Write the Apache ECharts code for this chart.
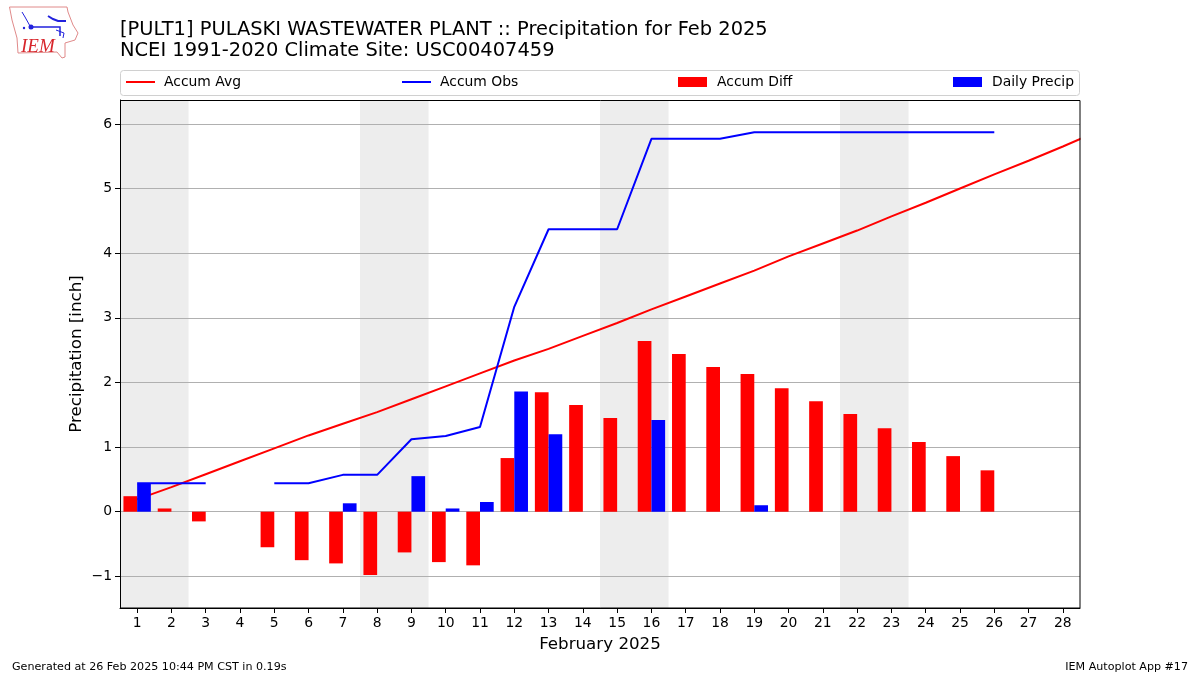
<!DOCTYPE html>
<html><head><meta charset="utf-8">
<style>html,body{margin:0;padding:0;background:#fff}#c{width:1200px;height:675px}</style>
<script src="https://cdn.jsdelivr.net/npm/echarts@6/dist/echarts.min.js"></script>
</head><body><div id="c"></div>
<script>
const days=[1,2,3,4,5,6,7,8,9,10,11,12,13,14,15,16,17,18,19,20,21,22,23,24,25,26,27,28,29];
const tickDays=[1,2,3,4,5,6,7,8,9,10,11,12,13,14,15,16,17,18,19,20,21,22,23,24,25,26,27,28];
const yTicks=[-1,0,1,2,3,4,5,6];
const accumAvg=[0.19,0.38,0.58,0.78,0.98,1.18,1.36,1.54,1.74,1.94,2.14,2.34,2.52,2.72,2.92,3.13,3.33,3.53,3.73,3.95,4.15,4.35,4.57,4.78,5.0,5.22,5.43,5.65,5.88];
const accumObs=[0.44,0.44,0.44,null,0.44,0.44,0.57,0.57,1.12,1.17,1.31,3.17,4.37,4.37,4.37,5.77,5.77,5.77,5.87,5.87,5.87,5.87,5.87,5.87,5.87,5.87,null,null,null];
const accumDiff=[0.24,0.05,-0.15,null,-0.55,-0.75,-0.80,-0.98,-0.63,-0.78,-0.83,0.83,1.85,1.65,1.45,2.64,2.44,2.24,2.13,1.91,1.71,1.51,1.29,1.08,0.86,0.64,null,null,null];
const dailyPrecip=[0.43,null,null,null,null,null,0.13,null,0.55,0.05,0.15,1.86,1.2,null,null,1.42,null,null,0.10,null,null,null,null,null,null,null,null,null,null];
const weekends=[[0.5,2.5],[7.5,9.5],[14.5,16.5],[21.5,23.5]];
const FONT='"DejaVu Sans"';
const pairs=v=>days.map((d,i)=>[d,v[i]]);
const chart=echarts.init(document.getElementById('c'),null,{renderer:'canvas'});
const leg=(name,left,pad,extra)=>Object.assign({show:true,data:[name],left:left,top:75,itemWidth:29,itemHeight:10,itemGap:9,padding:0,
  textStyle:{fontFamily:FONT,fontSize:13.9,color:'#000',padding:[0,0,0,pad]},selectedMode:false},extra);
const ttl=(text,pos,size)=>Object.assign({text:text,padding:0,textStyle:{fontFamily:FONT,fontSize:size,fontWeight:'normal',color:'#000'}},pos);
chart.setOption({
 animation:false,
 backgroundColor:'#fff',
 textStyle:{fontFamily:FONT},
 title:[
  ttl('[PULT1] PULASKI WASTEWATER PLANT :: Precipitation for Feb 2025',{left:120,top:20},19.45),
  ttl('NCEI 1991-2020 Climate Site: USC00407459',{left:120,top:41},19.45),
  ttl('Generated at 26 Feb 2025 10:44 PM CST in 0.19s',{left:12,top:662},11.12),
  ttl('IEM Autoplot App #17',{right:12,top:662},11.12)
 ],
 legend:[
  leg('Accum Avg',125,4,{itemStyle:{opacity:0}}),
  leg('Accum Obs',401,4,{itemStyle:{opacity:0}}),
  leg('Accum Diff',678,5,{icon:'rect'}),
  leg('Daily Precip',953,5,{icon:'rect'})],
 grid:{left:120,top:100,width:960,height:508,show:false},
 xAxis:{type:'value',min:0.5,max:28.5,
  name:'February 2025',nameLocation:'middle',nameGap:28,nameMoveOverlap:false,nameTextStyle:{fontFamily:FONT,fontSize:16.7,color:'#000'},
  axisLine:{show:true,onZero:false,lineStyle:{color:'#000',width:1}},
  axisTick:{show:true,length:5,customValues:tickDays,lineStyle:{color:'#000',width:1}},
  axisLabel:{show:true,customValues:tickDays,color:'#000',fontFamily:FONT,fontSize:13.9,margin:8,formatter:v=>String(v)},
  splitLine:{show:false},minorTick:{show:false}},
 yAxis:{type:'value',min:-1.49,max:6.37,
  name:'Precipitation [inch]',nameLocation:'middle',nameGap:35,nameMoveOverlap:false,nameRotate:90,nameTextStyle:{fontFamily:FONT,fontSize:16.7,color:'#000'},
  axisLine:{show:true,onZero:false,lineStyle:{color:'#000',width:1}},
  axisTick:{show:true,length:5,customValues:yTicks,lineStyle:{color:'#000',width:1}},
  axisLabel:{show:true,customValues:yTicks,color:'#000',fontFamily:FONT,fontSize:13.9,margin:8,padding:[4,0,0,0],formatter:v=>String(v).replace('-','\u2212')},
  splitLine:{show:true,lineStyle:{color:'#b0b0b0',width:1}}},
 series:[
  {name:'shade',type:'line',data:[],z:-1,silent:true,legendHoverLink:false,
   markArea:{silent:true,z:-1,itemStyle:{color:'#ededed'},label:{show:false},
    data:weekends.map(w=>[{xAxis:w[0]},{xAxis:w[1]}])}},
  {name:'Accum Avg',type:'line',data:pairs(accumAvg),showSymbol:false,symbol:'none',z:2,lineStyle:{color:'#ff0000',width:2},itemStyle:{color:'#ff0000'}},
  {name:'Accum Obs',type:'line',data:pairs(accumObs),showSymbol:false,symbol:'none',z:4,lineStyle:{color:'#0000ff',width:2},itemStyle:{color:'#0000ff'}},
  {name:'Accum Diff',type:'bar',data:pairs(accumDiff),barWidth:13.7,barGap:0,z:3,itemStyle:{color:'#ff0000'}},
  {name:'Daily Precip',type:'bar',data:pairs(dailyPrecip),barWidth:13.7,barGap:0,z:3,itemStyle:{color:'#0000ff'}}
 ],
 graphic:{elements:[
  {type:'rect',z:-5,shape:{x:120.5,y:70.5,width:959,height:25,r:3},style:{fill:'#fff',stroke:'#d0d0d0',lineWidth:1}},
  {type:'rect',z:49,shape:{x:1080.5,y:100,width:4,height:508},style:{fill:'#fff'}},
  {type:'rect',z:50,shape:{x:120.5,y:100.5,width:959.5,height:507.5},style:{fill:null,stroke:'#000',lineWidth:1}},
  {type:'polygon',z:10,shape:{points:[[9.5,7],[67,7],[68,12],[73,25],[78,33],[75,40],[65,43],[65,57],[62,58],[57,52],[18,53],[17,38],[12,20]]},style:{fill:'#fff',stroke:'#e08a8a',lineWidth:1}},
  {type:'polyline',z:11,shape:{points:[[31,27],[60,27],[60,36]]},style:{stroke:'#2222dd',fill:null,lineWidth:1.5}},
  {type:'polyline',z:11,shape:{points:[[48,16],[53,19],[58,21],[66,21]]},style:{stroke:'#2222dd',fill:null,lineWidth:2}},
  {type:'polyline',z:11,shape:{points:[[22,12],[25,17],[30,26]]},style:{stroke:'#2222dd',fill:null,lineWidth:1}},
  {type:'polyline',z:11,shape:{points:[[56,30],[64,33],[63,38]]},style:{stroke:'#2222dd',fill:null,lineWidth:1}},
  {type:'circle',z:11,shape:{cx:31,cy:27,r:2.5},style:{fill:'#2222dd'}},
  {type:'circle',z:11,shape:{cx:24,cy:28,r:1.2},style:{fill:'#2222dd'}},
  {type:'text',z:11,x:21,y:37,style:{text:'IEM',fill:'#d8262c',font:'italic 19px "Liberation Serif"'}}
 ]}
});
</script></body></html>
